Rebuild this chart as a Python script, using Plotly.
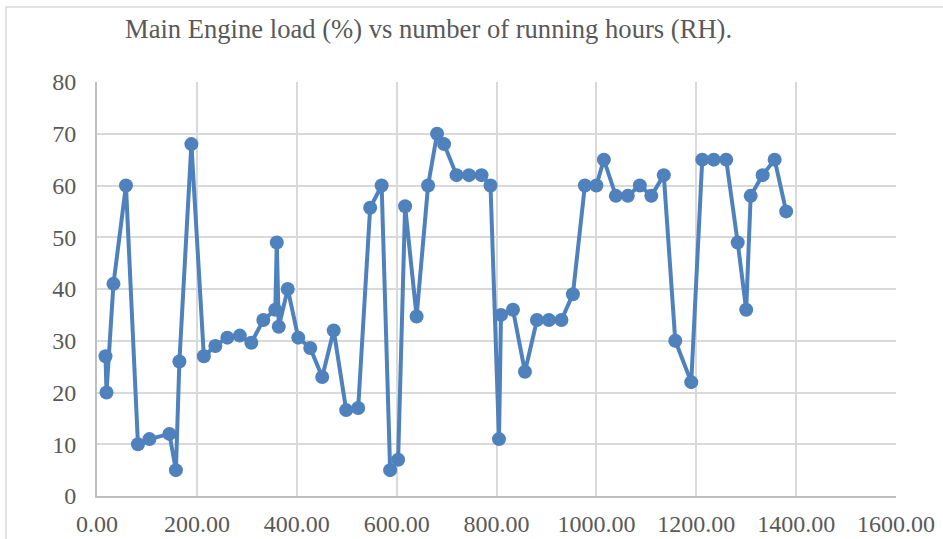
import plotly.graph_objects as go

running_hours = [17, 19, 33, 58, 82, 105, 145, 158, 165, 189, 214, 237, 261, 286, 309,
                 333, 357, 360, 364, 382, 403, 427, 451, 474, 499, 523, 547, 570, 587,
                 603, 617, 640, 663, 681, 695, 720, 745, 770, 788, 805, 809, 833, 857,
                 881, 905, 930, 953, 977, 1000, 1015, 1039, 1063, 1087, 1110, 1135,
                 1158, 1190, 1212, 1235, 1260, 1283, 1300, 1309, 1333, 1357, 1380]
engine_load = [27, 20, 41, 60, 10, 11, 12, 5, 26, 68, 27, 29, 30.6, 31, 29.6,
               34, 36, 49, 32.7, 40, 30.6, 28.6, 23, 32, 16.6, 17, 55.7, 60, 5,
               7, 56, 34.7, 60, 70, 68, 62, 62, 62, 60, 11, 35, 36, 24,
               34, 34, 34, 39, 60, 60, 65, 58, 58, 60, 58, 62,
               30, 22, 65, 65, 65, 49, 36, 58, 62, 65, 55]

x_ticks = [0, 200, 400, 600, 800, 1000, 1200, 1400, 1600]
y_ticks = [0, 10, 20, 30, 40, 50, 60, 70, 80]

title_text = "Main Engine load (%) vs number of running hours (RH)."

color = "#4f81bd"
font_family = "Liberation Serif, Times New Roman, serif"

fig = go.Figure()
fig.add_trace(go.Scatter(
    x=running_hours, y=engine_load, mode="lines+markers",
    line=dict(color=color, width=4),
    marker=dict(color=color, size=14),
    showlegend=False,
))

L, R, T, B = 97, 47, 82, 43
W, H = 943, 539
pw = W - L - R
ph = H - T - B

fig.update_layout(
    width=W, height=H,
    margin=dict(l=L, r=R, t=T, b=B),
    paper_bgcolor="white", plot_bgcolor="white",
    font=dict(family=font_family, color="#595959", size=24),
    title=dict(text=title_text, x=125 / W, xanchor="left",
               y=1 - 29 / H, yanchor="middle",
               font=dict(family=font_family, size=26.6, color="#595959")),
    xaxis=dict(range=[0, 1600], tickvals=x_ticks,
               ticktext=[f"{v:.2f}" for v in x_ticks],
               showgrid=True, gridcolor="#d9d9d9", gridwidth=1.5,
               showline=True, linecolor="#bfbfbf", linewidth=2,
               zeroline=False, ticks="outside", ticklen=5,
               tickcolor="rgba(0,0,0,0)", tickfont=dict(size=24),
               automargin=False),
    yaxis=dict(range=[0, 80], tickvals=y_ticks,
               showgrid=True, gridcolor="#d9d9d9", gridwidth=1.5,
               showline=True, linecolor="#bfbfbf", linewidth=2,
               zeroline=False, ticks="outside", ticklen=14,
               tickcolor="rgba(0,0,0,0)", tickfont=dict(size=24),
               automargin=False),
    shapes=[dict(type="rect", xref="paper", yref="paper",
                 x0=(6 - L) / pw, x1=(W + 10 - L) / pw,
                 y0=-(B + 10) / ph, y1=1 + (T - 7) / ph,
                 line=dict(color="#d9d9d9", width=1.5), layer="below")],
)

fig.write_html("out.html",
               config={"displayModeBar": False},
               post_script="document.body.style.margin='0';document.body.style.overflow='hidden';")
